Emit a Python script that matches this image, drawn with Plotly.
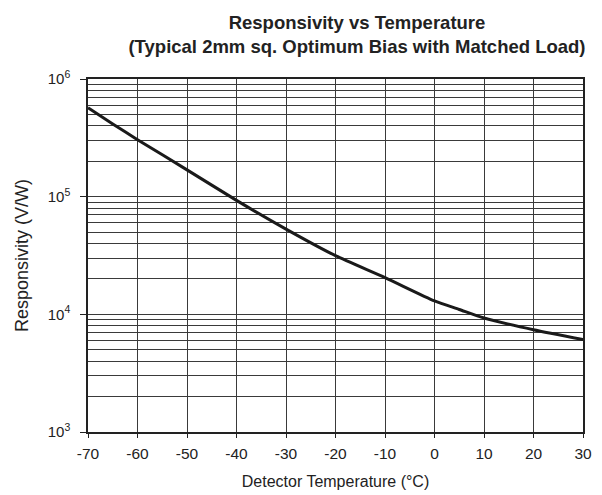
import plotly.graph_objects as go

temps = [-70, -65, -60, -50, -40, -30, -20, -10, 0, 5, 10, 20, 30]
resp = [5.7e5, 4.15e5, 3.05e5, 1.69e5, 9.3e4, 5.3e4, 3.15e4, 2.05e4, 1.3e4, 1.1e4, 9.3e3, 7.4e3, 6.1e3]

x_ticks = [-70, -60, -50, -40, -30, -20, -10, 0, 10, 20, 30]
y_decades = [1e3, 1e4, 1e5, 1e6]
y_labels = ["10<sup>3</sup>", "10<sup>4</sup>", "10<sup>5</sup>", "10<sup>6</sup>"]
y_minor = [m * d for d in [1e3, 1e4, 1e5] for m in range(2, 10)]

font = "Liberation Sans, Arial, sans-serif"
gridc = "#3a3a3a"

fig = go.Figure()
fig.add_trace(go.Scatter(x=temps, y=resp, mode="lines",
                         line=dict(color="#1a1a1a", width=3, shape="spline", smoothing=0.6),
                         showlegend=False))

fig.update_layout(
    width=602, height=495,
    margin=dict(l=88, r=19, t=79, b=63),
    paper_bgcolor="white", plot_bgcolor="white",
    font=dict(family=font, color="#222", size=15),
    title=dict(text="<b>Responsivity vs Temperature<br>(Typical 2mm sq. Optimum Bias with Matched Load)</b>",
               x=357 / 602, xanchor="center", y=0.941, yanchor="middle",
               font=dict(size=18.5, family=font, color="#222")),
)

fig.update_xaxes(range=[-70, 30], tickvals=x_ticks, ticktext=[str(v) for v in x_ticks],
                 showgrid=True, gridcolor=gridc, gridwidth=1,
                 showline=True, linecolor="#222", linewidth=1.5, mirror=True,
                 ticks="outside", ticklen=4, tickcolor="#222",
                 tickfont=dict(size=15.5), ticklabelstandoff=3,
                 zeroline=False, automargin=False,
                 title=dict(text="Detector Temperature (°C)", font=dict(size=16), standoff=14))
fig.update_yaxes(type="log", range=[3, 6], tickvals=y_decades, ticktext=y_labels,
                 showgrid=True, gridcolor=gridc, gridwidth=1,
                 showline=True, linecolor="#222", linewidth=1.5, mirror=True,
                 ticks="outside", ticklen=6, tickcolor="#222",
                 tickfont=dict(size=15), ticklabelstandoff=7,
                 automargin=False,
                 minor=dict(tickvals=y_minor, showgrid=True, gridcolor=gridc, gridwidth=1, ticks=""),
                 title=dict(text="Responsivity (V/W)", font=dict(size=18), standoff=14))

fig.write_html("out.html")
